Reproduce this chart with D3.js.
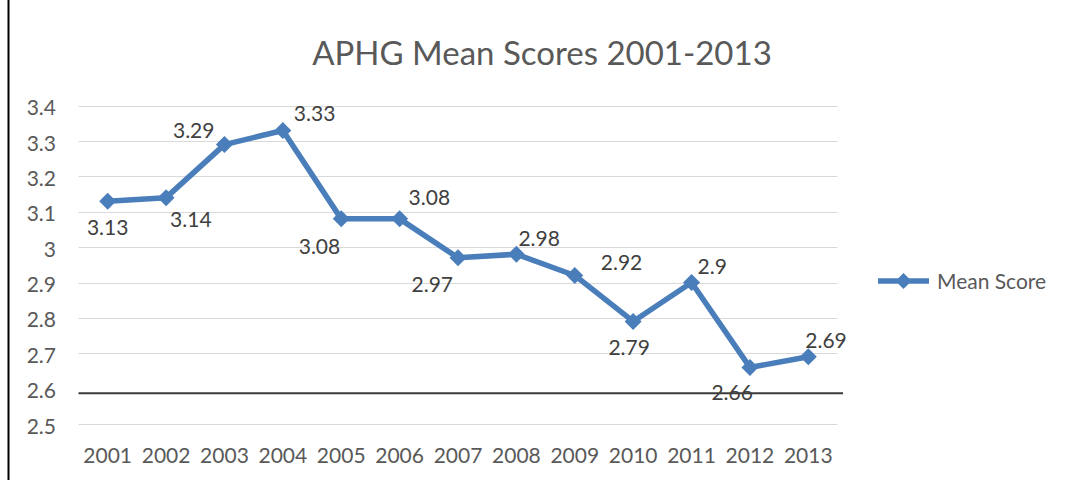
<!DOCTYPE html>
<html><head><meta charset="utf-8">
<script src="https://cdn.jsdelivr.net/npm/d3@7"></script>
<style>
html,body{margin:0;padding:0;background:#fff;}
svg{display:block;font-family:Lato,"Open Sans",sans-serif;}
</style></head>
<body>
<svg id="chart" width="1068" height="480"></svg>
<script>
const years = ["2001","2002","2003","2004","2005","2006","2007","2008","2009","2010","2011","2012","2013"];
const meanScores = [3.13,3.14,3.29,3.33,3.08,3.08,2.97,2.98,2.92,2.79,2.9,2.66,2.69];
const yTicks = [2.5,2.6,2.7,2.8,2.9,3.0,3.1,3.2,3.3,3.4];
const seriesName = "Mean Score";
const title = "APHG Mean Scores 2001-2013";
const refValue = 2.587;
// label placement relative to marker: [dx, dy, anchor]
const labelPlace = [[0,34,"middle"],[4,29,"start"],[-10,-7,"end"],[11,-9,"start"],[-1,35,"end"],[9,-14,"start"],
  [-5,34,"end"],[2,-8,"start"],[26,-5,"start"],[-4,34,"middle"],[6,-9,"start"],[3,33,"end"],[-3,-9,"start"]];

const svg = d3.select("#chart");
const textColor = "#595959";
const blue = "#4A7EBB";

const x = d3.scalePoint().domain(years).range([78.5, 837.5]).padding(0.5);
const y = d3.scaleLinear().domain([2.5, 3.4]).range([424, 105.7]);

// left border line
svg.append("line").attr("x1",8.5).attr("x2",8.5).attr("y1",0).attr("y2",480)
  .attr("stroke","#000").attr("stroke-width",2);

// title
svg.append("text").attr("x",542).attr("y",65).attr("text-anchor","middle")
  .attr("fill",textColor).attr("font-size",33).text(title);

// gridlines (the 2.6 line is covered by the dark rule)
svg.append("g").selectAll("line").data(yTicks.filter(d=>Math.abs(d-2.6)>1e-6)).join("line")
  .attr("x1",78.5).attr("x2",837.5)
  .attr("y1",d=>Math.round(y(d))+0.5).attr("y2",d=>Math.round(y(d))+0.5)
  .attr("stroke","#D9D9D9").attr("stroke-width",1.2);

// y labels
svg.append("g").selectAll("text").data(yTicks).join("text")
  .attr("x",56).attr("y",d=>y(d)+9.5).attr("text-anchor","end")
  .attr("fill",textColor).attr("font-size",21)
  .text(d=>d3.format("")(+d.toFixed(1)));

// x labels
svg.append("g").selectAll("text").data(years).join("text")
  .attr("x",d=>x(d)).attr("y",463).attr("text-anchor","middle")
  .attr("fill",textColor).attr("font-size",21).text(d=>d);

// reference dark line
svg.append("line").attr("x1",78.5).attr("x2",843).attr("y1",y(refValue)).attr("y2",y(refValue))
  .attr("stroke","#3a3a3a").attr("stroke-width",2);

const data = years.map((yr,i)=>({yr, v: meanScores[i], p: labelPlace[i]}));

// line
svg.append("path").datum(data)
  .attr("d", d3.line().x(d=>x(d.yr)).y(d=>y(d.v)))
  .attr("fill","none").attr("stroke",blue).attr("stroke-width",5.5).attr("stroke-linejoin","round");

const diamond = (cx,cy,r)=>`M${cx},${cy-r}L${cx+r},${cy}L${cx},${cy+r}L${cx-r},${cy}Z`;
svg.append("g").selectAll("path").data(data).join("path")
  .attr("d",d=>diamond(x(d.yr),y(d.v),8.5)).attr("fill",blue);

// data labels
svg.append("g").selectAll("text").data(data).join("text")
  .attr("x",d=>x(d.yr)+d.p[0]).attr("y",d=>y(d.v)+d.p[1]).attr("text-anchor",d=>d.p[2])
  .attr("fill","#404040").attr("font-size",21).text(d=>String(d.v));

// legend
const lg = svg.append("g");
lg.append("line").attr("x1",878).attr("x2",929).attr("y1",281).attr("y2",281)
  .attr("stroke",blue).attr("stroke-width",5.5);
lg.append("path").attr("d",diamond(903.5,281,8)).attr("fill",blue);
lg.append("text").attr("x",937).attr("y",288.5).attr("fill",textColor).attr("font-size",21).text(seriesName);
</script>
</body></html>
